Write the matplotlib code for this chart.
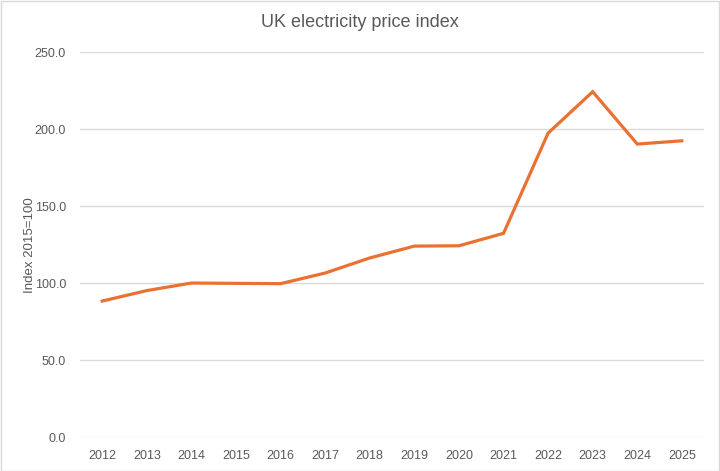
import matplotlib
matplotlib.use("Agg")
import matplotlib.pyplot as plt
from matplotlib.patches import Rectangle

years = ["2012", "2013", "2014", "2015", "2016", "2017", "2018",
         "2019", "2020", "2021", "2022", "2023", "2024", "2025"]
index_values = [88.5, 95.3, 100.2, 100.0, 99.8, 106.7, 116.5,
                124.2, 124.4, 132.5, 197.6, 224.5, 190.5, 192.6]
y_ticks = [0, 50, 100, 150, 200, 250]

plt.rcParams['font.family'] = ['Liberation Sans', 'DejaVu Sans']
text_color = '#595959'

fig = plt.figure(figsize=(7.2, 4.71), dpi=100)
ax = fig.add_axes([0.111, 0.0716, 0.867, 0.817])

x = list(range(len(years)))
ax.plot(x, index_values, color='#E97132', linewidth=2.3, solid_joinstyle='miter')

ax.set_xlim(-0.5, len(years) - 0.5)
ax.set_ylim(0, 250)
ax.set_yticks(y_ticks)
ax.set_yticklabels([f"{v:.1f}" for v in y_ticks])
ax.set_xticks(x)
ax.set_xticklabels(years)
ax.grid(axis='y', color='#D9D9D9', linewidth=1)
ax.set_axisbelow(True)
for s in ax.spines.values():
    s.set_visible(False)
ax.tick_params(length=0, colors=text_color, labelsize=9)
ax.tick_params(axis='x', pad=9)
ax.tick_params(axis='y', pad=10)
ax.set_ylabel("Index 2015=100", color=text_color, fontsize=9.5, labelpad=-1)
fig.suptitle("UK electricity price index", color=text_color, fontsize=13,
             y=0.952, va='center')

fig.patches.append(Rectangle((0.001, 0.001), 0.997, 0.997, transform=fig.transFigure,
                             fill=False, edgecolor='#D9D9D9', linewidth=1))

fig.savefig("out.png", dpi=100)
